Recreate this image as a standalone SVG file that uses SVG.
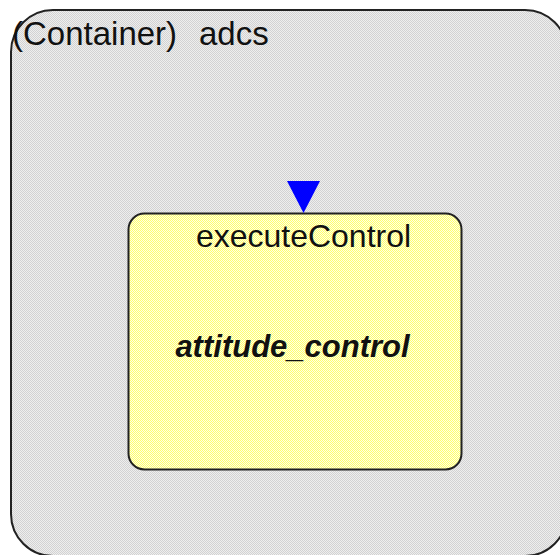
<svg xmlns="http://www.w3.org/2000/svg" width="560" height="555" viewBox="0 0 560 555">
  <defs>
    <!-- dithered fills -->
    <pattern id="grayDither" width="2" height="2" patternUnits="userSpaceOnUse">
      <rect width="2" height="2" fill="#eeeeee"/>
      <rect width="1" height="1" fill="#d2d2d2"/>
      <rect x="1" y="1" width="1" height="1" fill="#d2d2d2"/>
    </pattern>
    <pattern id="yellowDither" width="2" height="2" patternUnits="userSpaceOnUse">
      <rect width="2" height="2" fill="#ffffe4"/>
      <rect width="1" height="1" fill="#ffff6c"/>
      <rect x="1" y="1" width="1" height="1" fill="#ffff6c"/>
    </pattern>
  </defs>
  <style>
    .label { font-family: "Liberation Sans", Arial, sans-serif; fill: #111; }
    .edge { stroke: #222; stroke-width: 2; }
  </style>
  <rect width="560" height="555" fill="#ffffff"/>

  <g id="container-adcs">
    <rect class="edge" x="11" y="10" width="556" height="546" rx="42" ry="42" fill="url(#grayDither)"/>
    <text class="label" x="12" y="45" font-size="33">(Container)<tspan x="199">adcs</tspan></text>
  </g>

  <g id="state-attitude_control">
    <rect class="edge" x="128.5" y="213.5" width="333" height="256" rx="16" ry="16" fill="url(#yellowDither)"/>
    <text class="label" x="303.5" y="247" font-size="32" text-anchor="middle">executeControl</text>
    <text class="label" x="292.5" y="357" font-size="31" font-weight="bold" font-style="italic" text-anchor="middle">attitude_control</text>
  </g>

  <g id="connectors">
    <!-- initial entry marker -->
    <polygon points="287,181 320,181 303.5,213" fill="#0000ff"/>
  </g>
</svg>
